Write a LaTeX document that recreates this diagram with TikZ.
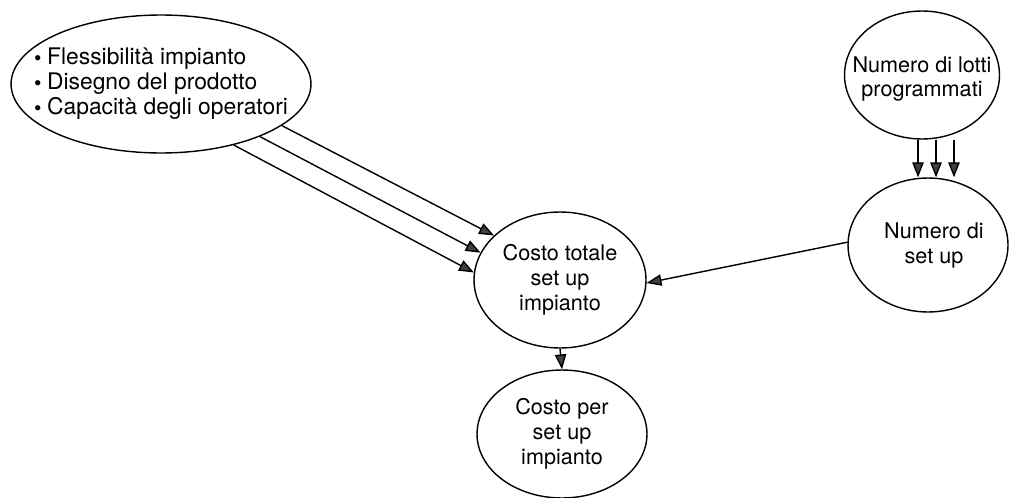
\documentclass[tikz,border=0pt]{standalone}
\usepackage{fontspec}
\setmainfont{TeX Gyre Heros}
\usetikzlibrary{arrows.meta,shapes.geometric}

\newcommand\voce{{\large\raisebox{-.05ex}{\textbullet}}\hspace{.25em}}

\begin{document}
\begin{tikzpicture}[x=0.02cm,y=-0.02cm,
            bubble/.style={ellipse,draw,line width=0.8pt,inner sep=0pt},
            txt/.style={align=center,inner sep=0pt,font=\fontsize{12.3}{14.2}\selectfont},
            arr/.style={line width=0.8pt,-{Triangle[length=8.5pt,width=6.5pt,fill=black!75]}}]
            \useasboundingbox (0,0) rectangle (1010,497);
            \node[bubble,minimum width=6cm,minimum height=2.76cm] (fattori) at (161,84) {};
            \node[bubble,minimum width=3.1cm,minimum height=2.56cm] (lotti) at (922,75) {};
            \node[bubble,minimum width=3.2cm,minimum height=2.68cm] (setup) at (928,245) {};
            \node[bubble,minimum width=3.44cm,minimum height=2.72cm] (totale) at (560,280) {};
            \node[bubble,minimum width=3.4cm,minimum height=2.56cm] (unitario) at (562,434) {};
            \node[txt,align=left,font=\fontsize{13}{14.2}\selectfont] (fattori-t) at (fattori)
                {\voce Flessibilità impianto\\ \voce Disegno del prodotto\\ \voce Capacità degli operatori};
            \node[txt] (lotti-t) at ([yshift=-4*0.2mm]lotti) {Numero di lotti\\ programmati};
            \node[txt] (setup-t) at ([xshift=6*0.2mm]setup) {Numero di\\ set up};
            \node[txt] (totale-t) at (totale) {Costo totale\\ set up\\ impianto};
            \node[txt] (unitario-t) at (unitario) {Costo per\\ set up\\ impianto};
            \draw[arr] (fattori.-19) -- (totale.146);
            \draw[arr] (fattori.-28) -- (totale.161);
            \draw[arr] (fattori.-40) -- (totale.175);
            \foreach \dx in {-4,14,32}
                \draw[arr] ([xshift=\dx*0.2mm]lotti.south) -- ([xshift=\dx*0.2mm]lotti.south |- setup.north);
            \draw[arr] (setup.178) -- (totale.-2);
            \draw[arr] (totale.south) -- (unitario.north);
        \end{tikzpicture}
\end{document}
